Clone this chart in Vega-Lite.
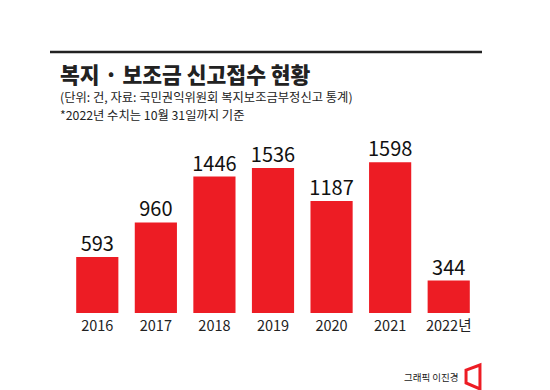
{
  "$schema": "https://vega.github.io/schema/vega-lite/v6.json",
  "autosize": "none",
  "width": 410,
  "height": 160,
  "padding": {"left": 68, "top": 153, "right": 72, "bottom": 77},
  "background": "white",
  "config": {"view": {"stroke": null}, "font": "Noto Sans CJK KR"},
  "title": {
    "text": "복지 · 보조금 신고접수 현황",
    "subtitle": ["(단위: 건, 자료: 국민권익위원회 복지보조금부정신고 통계)", "*2022년 수치는 10월 31일까지 기준"],
    "anchor": "start",
    "frame": "group",
    "dx": -8,
    "offset": -72,
    "fontSize": 21.5,
    "fontWeight": 900,
    "color": "#222222",
    "subtitleFontSize": 12.3,
    "subtitleColor": "#222222",
    "subtitleLineHeight": 18,
    "subtitlePadding": 5
  },
  "data": {
    "values": [
      {"year": "2016", "count": 593},
      {"year": "2017", "count": 960},
      {"year": "2018", "count": 1446},
      {"year": "2019", "count": 1536},
      {"year": "2020", "count": 1187},
      {"year": "2021", "count": 1598},
      {"year": "2022년", "count": 344}
    ]
  },
  "encoding": {
    "x": {
      "field": "year",
      "type": "nominal",
      "sort": null,
      "scale": {"paddingInner": 0.28, "paddingOuter": 0.14},
      "axis": {
        "labelAngle": 0,
        "labelFontSize": 14.5,
        "labelColor": "#222222",
        "labelPadding": 6,
        "ticks": false,
        "domain": false,
        "title": "그래픽 이진경",
        "titleFontSize": 9.5,
        "titleFontWeight": "normal",
        "titleColor": "#222222",
        "titleAnchor": null,
        "titleAlign": "right",
        "titleBaseline": "alphabetic",
        "titleX": 390,
        "titleY": 67
      }
    },
    "y": {
      "field": "count",
      "type": "quantitative",
      "scale": {"domain": [0, 1695]},
      "axis": null
    }
  },
  "layer": [
    {"mark": {"type": "bar", "color": "#ED1C24"}},
    {
      "mark": {"type": "text", "baseline": "alphabetic", "dy": -6, "fontSize": 20, "color": "#111111"},
      "encoding": {"text": {"field": "count", "type": "quantitative"}}
    },
    {
      "data": {"values": [{}]},
      "mark": {"type": "rule", "stroke": "#222222", "strokeWidth": 2.5},
      "encoding": {"x": {"value": -18}, "x2": {"value": 414}, "y": {"value": -101}}
    },
    {
      "data": {"values": [{}]},
      "mark": {"type": "point", "shape": "M -0.58 -0.58 L 0.58 -1 L 0.58 1 L -0.58 0.5 Z", "filled": false, "stroke": "#ED1C24", "strokeWidth": 3, "size": 576, "opacity": 1},
      "encoding": {"x": {"value": 405}, "y": {"value": 224}}
    }
  ]
}
